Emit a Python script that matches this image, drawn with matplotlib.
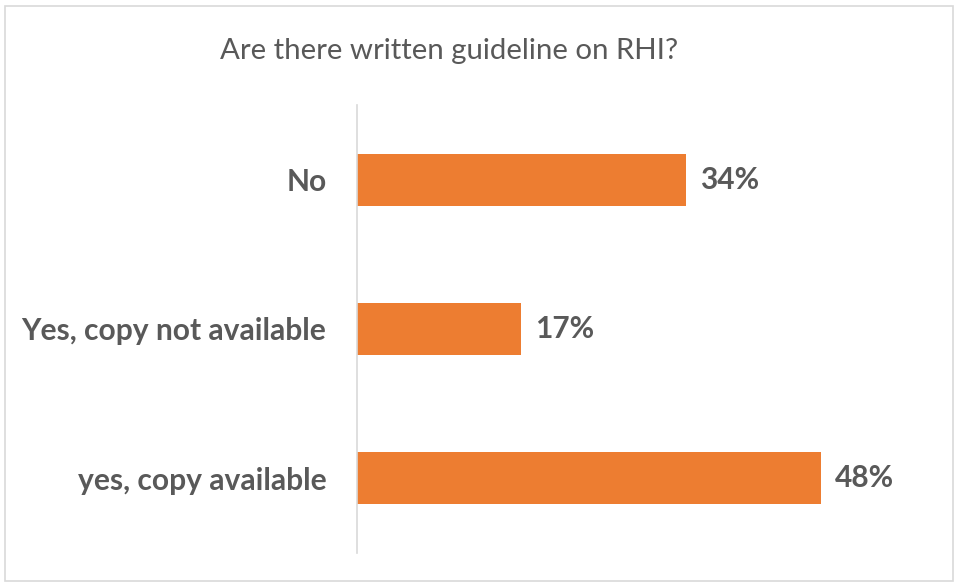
import matplotlib
matplotlib.use("Agg")
import matplotlib.pyplot as plt
from matplotlib.patches import Rectangle

# data
categories = ["yes, copy available", "Yes, copy not available", "No"]
values = [0.48, 0.17, 0.34]
title = "Are there written guideline on RHI?"

bar_color = "#ED7D31"
text_color = "#595959"

plt.rcParams["font.family"] = ["Lato", "DejaVu Sans"]

fig = plt.figure(figsize=(9.56, 5.82), dpi=100)
ax = fig.add_axes([357 / 956, 1 - 553 / 582, 0.60, 448 / 582])

ypos = list(range(len(categories)))
bars = ax.barh(ypos, values, height=0.35, color=bar_color)

# value labels
for y, v in zip(ypos, values):
    ax.annotate(f"{v:.0%}", (v, y), xytext=(10, 0), textcoords="offset points",
                va="center", ha="left", fontsize=21.5, fontweight="bold", color=text_color)

ax.set_xlim(0, 0.60 * 956 / 966.7)
ax.set_ylim(-0.5, 2.5)
ax.set_yticks(ypos)
ax.set_yticklabels(categories, fontsize=21.6, fontweight="bold", color=text_color)
ax.tick_params(axis="y", length=0, pad=22)
ax.set_xticks([])

for s in ["top", "right", "bottom"]:
    ax.spines[s].set_visible(False)
ax.spines["left"].set_color("#d9d9d9")
ax.spines["left"].set_linewidth(1.2)

fig.text(449 / 956, 1 - 51 / 582, title, ha="center", va="center",
         fontsize=21.2, color=text_color)

# chart border
fig.patches.append(Rectangle((5 / 956, 1 / 582), 948 / 956, 575 / 582,
                             transform=fig.transFigure, fill=False,
                             edgecolor="#d9d9d9", linewidth=1.2))

fig.savefig("out.png", dpi=100)
